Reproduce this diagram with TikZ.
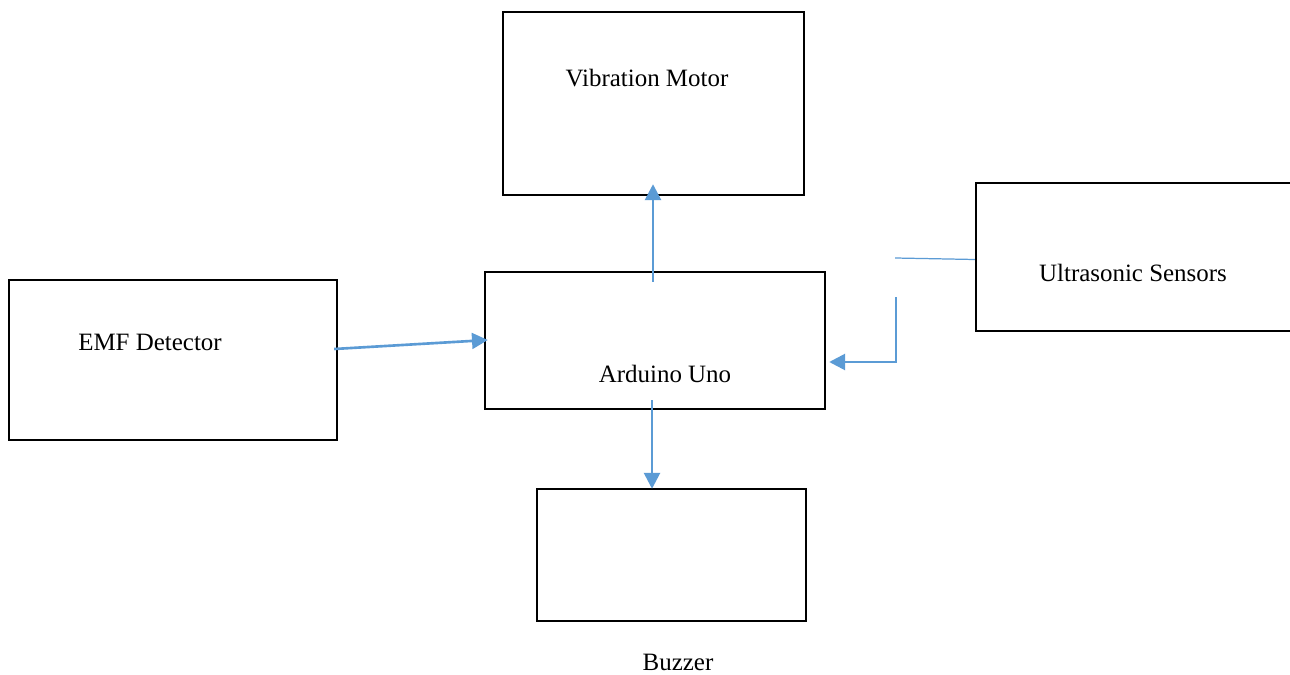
\documentclass[tikz,border=0pt]{standalone}
\usepackage{fontspec}
\setmainfont{Liberation Serif}
\usetikzlibrary{arrows.meta,calc}
\definecolor{linkblue}{HTML}{5B9BD5}

\begin{document}
\begin{tikzpicture}[x=0.02cm, y=-0.02cm,
  box/.style={draw, rectangle, line width=1.4pt, inner sep=0pt},
  arr/.style={draw=linkblue, line width=1.5pt, -{Triangle[length=9pt,width=9pt]}},
  wire/.style={draw=linkblue, line width=0.7pt},
  lbl/.style={anchor=base, inner sep=0pt, font=\fontsize{14.2}{17}\selectfont}]
  \useasboundingbox (0,0) rectangle (1290,675);
  \clip (0,0) rectangle (1290,675);
  \fill[white] (0,0) rectangle (1290,675);

  % Nodes
  \node[box, minimum width=6.02cm, minimum height=3.66cm] (M) at (653.5,103.5) {};
  \node[box, minimum width=6.8cm, minimum height=2.96cm] (U) at (1146,257) {};
  \node[box, minimum width=6.56cm, minimum height=3.2cm] (E) at (173,360) {};
  \node[box, minimum width=6.8cm, minimum height=2.74cm] (A) at (655,340.5) {};
  \node[box, minimum width=5.38cm, minimum height=2.64cm] (Z) at (671.5,555) {};

  % Labels
  \node[lbl] (Mtext) at (647,87) {Vibration Motor};
  \node[lbl] (Utext) at (1133,281) {Ultrasonic Sensors};
  \node[lbl] (Etext) at (150,350) {EMF Detector};
  \node[lbl] (Atext) at (665,382) {Arduino Uno};
  \node[lbl] (Ztext) at (678,670) {Buzzer};

  % Arrows
  \draw[arr] ($(A.north)+(-2,11)$) -- ($(M.south)+(-0.5,-12)$);
  \draw[arr] ($(E.east)+(-4,-11)$) -- ($(A.west)+(4,-0.5)$);
  \draw[arr] ($(A.south)+(-3,-10)$) -- ($(Z.north)+(-19.5,1)$);

  % Ultrasonic link
  \coordinate (K) at (895,258);
  \coordinate (J) at (896,297);
  \draw[wire] (K) -- ($(U.west)+(0,2.5)$);
  \draw[arr] (J) |- ($(A.east)+(3,21.5)$);
\end{tikzpicture}
\end{document}
